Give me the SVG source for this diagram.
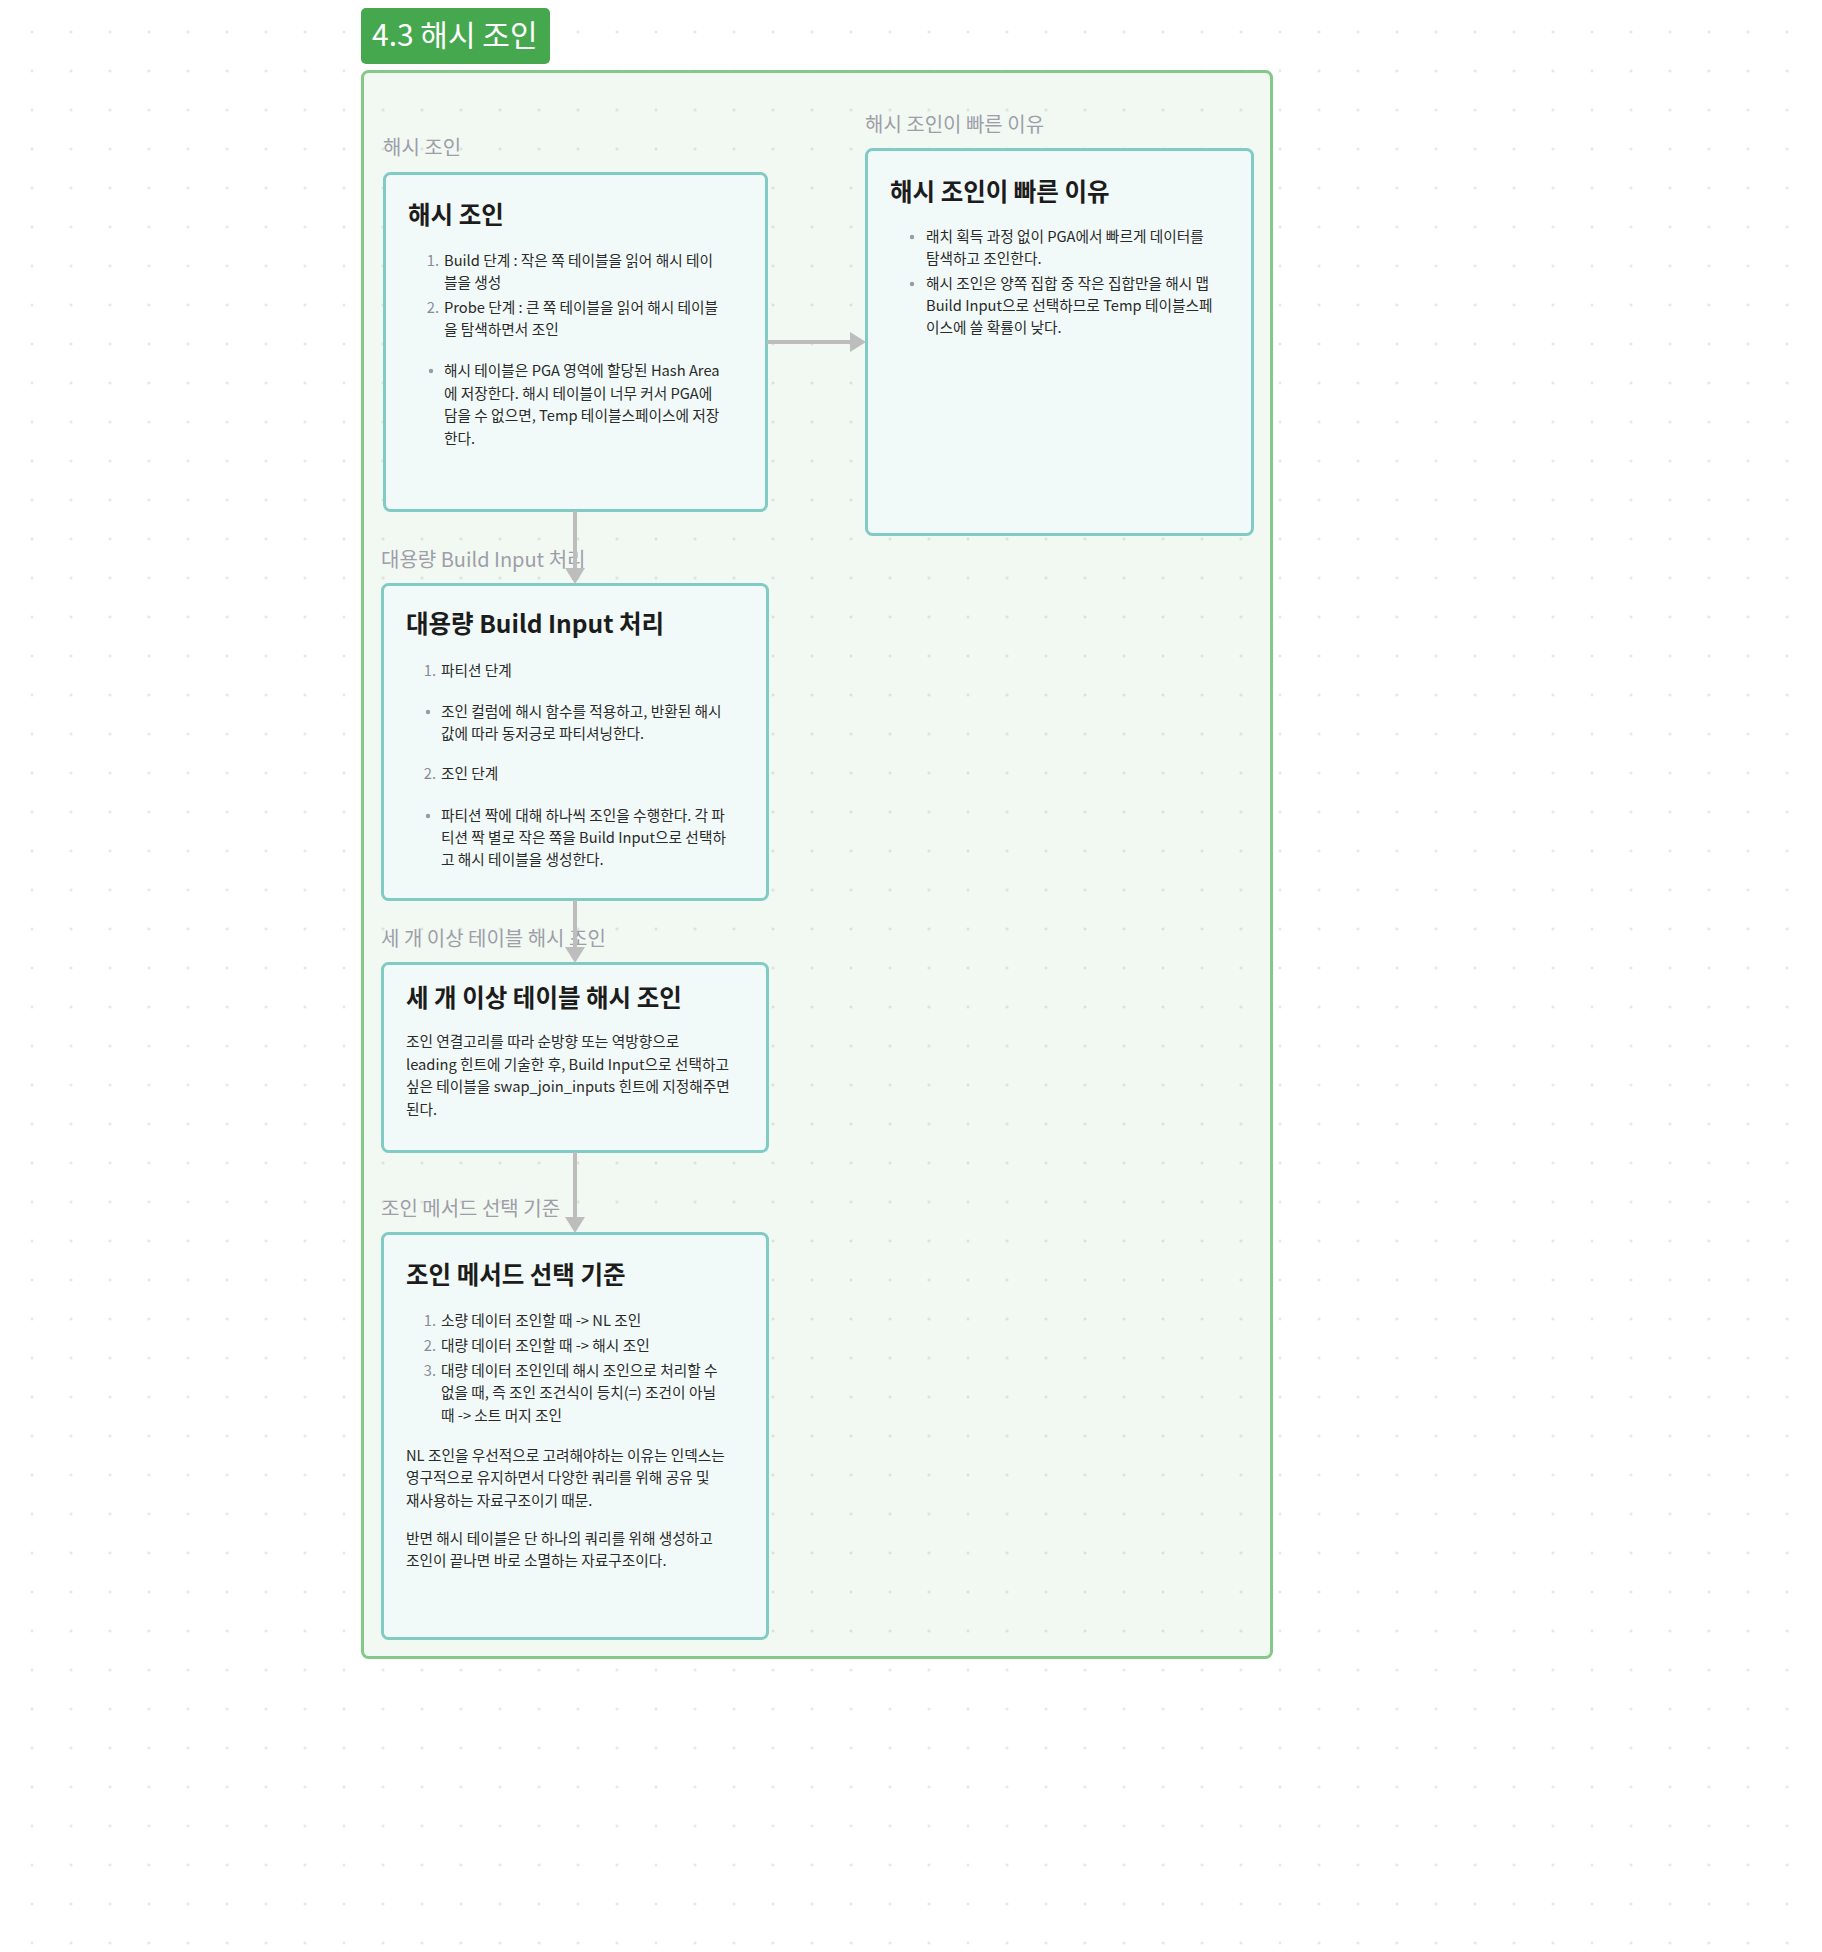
<svg xmlns="http://www.w3.org/2000/svg" width="1822" height="1952" viewBox="0 0 1822 1952">
  <defs>
    <pattern id="dots" x="12.5" y="12.5" width="39" height="39" patternUnits="userSpaceOnUse">
      <circle cx="19.5" cy="19.5" r="1.3" fill="#dedede"/>
    </pattern>
    <style>
      text { font-family: "Noto Sans CJK KR", "Noto Sans", "Liberation Sans", sans-serif; }
      .node-box { fill: #f2faf9; stroke: #80cbc4; stroke-width: 3; }
      .label { font-size: 20px; fill: #9e9ea8; }
      .title { font-size: 24.5px; font-weight: 700; fill: #1c1c1c; }
      .body { font-size: 14.7px; fill: #2a2a2a; }
      .num { font-size: 14.7px; fill: #8a8a96; text-anchor: end; }
      .bullet { fill: #9a9aa4; }
      .conn { stroke: #bdbdbd; stroke-width: 4; fill: none; }
      .head { fill: #bdbdbd; }
    </style>
  </defs>

  <rect x="0" y="0" width="1822" height="1952" fill="#ffffff"/>
  <rect x="0" y="0" width="1822" height="1952" fill="url(#dots)"/>

  <g id="group-4-3">
    <rect x="362.5" y="71.5" width="909" height="1586" rx="6" fill="#4caf50" fill-opacity="0.07" stroke="#84c98a" stroke-width="3"/>
    <rect x="361" y="8" width="189" height="56" rx="5" fill="#46a84e"/>
    <text x="372" y="46" font-size="30" fill="#ffffff">4.3 해시 조인</text>
  </g>

  <g id="labels">
    <text class="label" x="383" y="155">해시 조인</text>
    <text class="label" x="865" y="132">해시 조인이 빠른 이유</text>
    <text class="label" x="381" y="567">대용량 Build Input 처리</text>
    <text class="label" x="381" y="946">세 개 이상 테이블 해시 조인</text>
    <text class="label" x="381" y="1216">조인 메서드 선택 기준</text>
  </g>

  <g id="node-hash-join">
    <rect class="node-box" x="384.5" y="173.5" width="382" height="337" rx="6"/>
    <text class="title" x="408" y="224">해시 조인</text>
    <text class="num" x="439" y="266">1.</text>
    <text class="body" x="444" y="266">Build 단계 : 작은 쪽 테이블을 읽어 해시 테이</text>
    <text class="body" x="444" y="288">블을 생성</text>
    <text class="num" x="439" y="313">2.</text>
    <text class="body" x="444" y="313">Probe 단계 : 큰 쪽 테이블을 읽어 해시 테이블</text>
    <text class="body" x="444" y="335">을 탐색하면서 조인</text>
    <circle class="bullet" cx="431" cy="371" r="2.2"/>
    <text class="body" x="444" y="376">해시 테이블은 PGA 영역에 할당된 Hash Area</text>
    <text class="body" x="444" y="399">에 저장한다. 해시 테이블이 너무 커서 PGA에</text>
    <text class="body" x="444" y="421">담을 수 없으면, Temp 테이블스페이스에 저장</text>
    <text class="body" x="444" y="444">한다.</text>
  </g>

  <g id="node-why-fast">
    <rect class="node-box" x="866.5" y="149.5" width="386" height="385" rx="6"/>
    <text class="title" x="890" y="201">해시 조인이 빠른 이유</text>
    <circle class="bullet" cx="912" cy="237" r="2.2"/>
    <text class="body" x="926" y="242">래치 획득 과정 없이 PGA에서 빠르게 데이터를</text>
    <text class="body" x="926" y="264">탐색하고 조인한다.</text>
    <circle class="bullet" cx="912" cy="284" r="2.2"/>
    <text class="body" x="926" y="289">해시 조인은 양쪽 집합 중 작은 집합만을 해시 맵</text>
    <text class="body" x="926" y="311">Build Input으로 선택하므로 Temp 테이블스페</text>
    <text class="body" x="926" y="333">이스에 쓸 확률이 낮다.</text>
  </g>

  <g id="node-large-build-input">
    <rect class="node-box" x="382.5" y="584.5" width="385" height="315" rx="6"/>
    <text class="title" x="406" y="633">대용량 Build Input 처리</text>
    <text class="num" x="436" y="676">1.</text>
    <text class="body" x="441" y="676">파티션 단계</text>
    <circle class="bullet" cx="428" cy="712" r="2.2"/>
    <text class="body" x="441" y="717">조인 컬럼에 해시 함수를 적용하고, 반환된 해시</text>
    <text class="body" x="441" y="739">값에 따라 동저긍로 파티셔닝한다.</text>
    <text class="num" x="436" y="779">2.</text>
    <text class="body" x="441" y="779">조인 단계</text>
    <circle class="bullet" cx="428" cy="816" r="2.2"/>
    <text class="body" x="441" y="821">파티션 짝에 대해 하나씩 조인을 수행한다. 각 파</text>
    <text class="body" x="441" y="843">티션 짝 별로 작은 쪽을 Build Input으로 선택하</text>
    <text class="body" x="441" y="865">고 해시 테이블을 생성한다.</text>
  </g>

  <g id="node-three-tables">
    <rect class="node-box" x="382.5" y="963.5" width="385" height="188" rx="6"/>
    <text class="title" x="406" y="1007">세 개 이상 테이블 해시 조인</text>
    <text class="body" x="406" y="1047">조인 연결고리를 따라 순방향 또는 역방향으로</text>
    <text class="body" x="406" y="1070">leading 힌트에 기술한 후, Build Input으로 선택하고</text>
    <text class="body" x="406" y="1092">싶은 테이블을 swap_join_inputs 힌트에 지정해주면</text>
    <text class="body" x="406" y="1115">된다.</text>
  </g>

  <g id="node-join-method">
    <rect class="node-box" x="382.5" y="1233.5" width="385" height="405" rx="6"/>
    <text class="title" x="406" y="1284">조인 메서드 선택 기준</text>
    <text class="num" x="436" y="1326">1.</text>
    <text class="body" x="441" y="1326">소량 데이터 조인할 때 -&gt; NL 조인</text>
    <text class="num" x="436" y="1351">2.</text>
    <text class="body" x="441" y="1351">대량 데이터 조인할 때 -&gt; 해시 조인</text>
    <text class="num" x="436" y="1376">3.</text>
    <text class="body" x="441" y="1376">대량 데이터 조인인데 해시 조인으로 처리할 수</text>
    <text class="body" x="441" y="1398">없을 때, 즉 조인 조건식이 등치(=) 조건이 아닐</text>
    <text class="body" x="441" y="1421">때 -&gt; 소트 머지 조인</text>
    <text class="body" x="406" y="1461">NL 조인을 우선적으로 고려해야하는 이유는 인덱스는</text>
    <text class="body" x="406" y="1483">영구적으로 유지하면서 다양한 쿼리를 위해 공유 및</text>
    <text class="body" x="406" y="1506">재사용하는 자료구조이기 때문.</text>
    <text class="body" x="406" y="1544">반면 해시 테이블은 단 하나의 쿼리를 위해 생성하고</text>
    <text class="body" x="406" y="1566">조인이 끝나면 바로 소멸하는 자료구조이다.</text>
  </g>

  <g id="connectors">
    <line class="conn" x1="767" y1="342" x2="851" y2="342"/>
    <polygon class="head" points="850,332 866,342 850,352"/>
    <line class="conn" x1="575" y1="511" x2="575" y2="569"/>
    <polygon class="head" points="565,568 575,584 585,568"/>
    <line class="conn" x1="575" y1="900" x2="575" y2="948"/>
    <polygon class="head" points="565,947 575,963 585,947"/>
    <line class="conn" x1="575" y1="1152" x2="575" y2="1218"/>
    <polygon class="head" points="565,1217 575,1233 585,1217"/>
  </g>
</svg>
